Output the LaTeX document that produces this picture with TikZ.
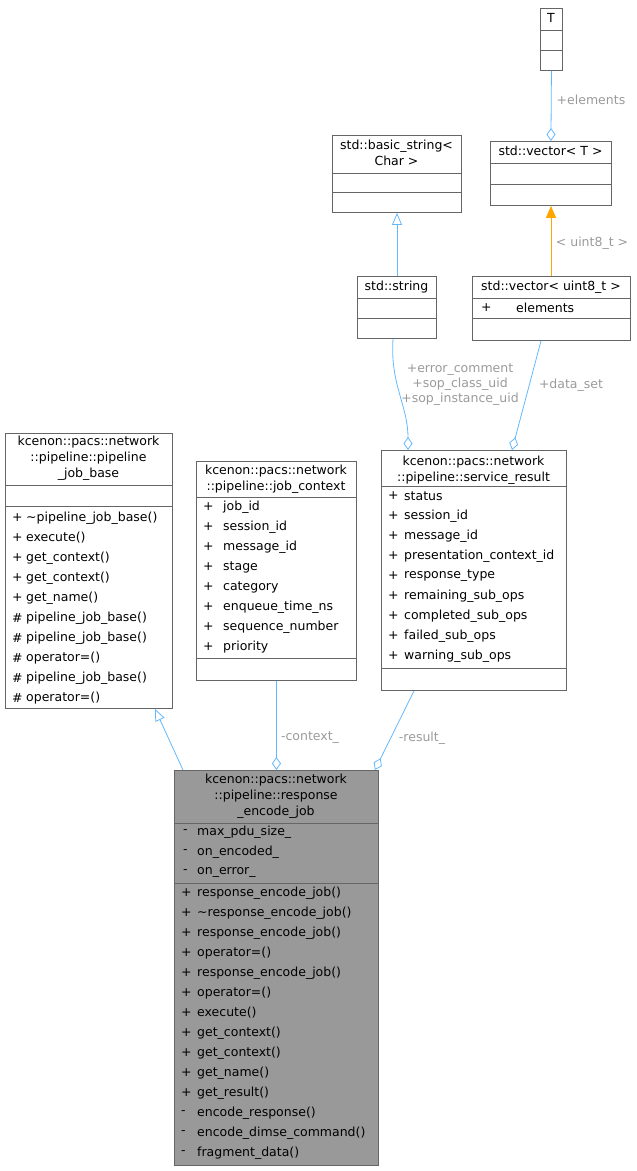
\documentclass[tikz,border=0pt]{standalone}
\usepackage{fontspec}
\setmainfont{DejaVu Sans}
\usetikzlibrary{arrows.meta}
\definecolor{edgeblue}{RGB}{99,184,255}
\definecolor{edgeorange}{RGB}{255,165,0}
\definecolor{lblgray}{RGB}{154,154,154}
\definecolor{boxline}{RGB}{102,102,102}
\tikzset{
  cls/.style={draw=boxline, fill=white, anchor=north west, inner sep=0pt, line width=0.9pt},
  ttl/.style={font=\fontsize{12.5}{16}\selectfont, align=center, inner sep=0pt},
  row/.style={font=\fontsize{12.5}{15}\selectfont, anchor=west, inner sep=0pt},
  lbl/.style={font=\fontsize{12.5}{15}\selectfont, text=lblgray, align=center, inner sep=0pt},
  uses/.style={draw=edgeblue, line width=0.8pt, -{Diamond[open,length=13,width=9]}},
  inherit/.style={draw=edgeblue, line width=0.8pt, -{Triangle[open,length=12,width=10]}},
  tmpl/.style={draw=edgeorange, line width=0.8pt, -{Triangle[fill=edgeorange,length=12,width=10]}}
}
\newcommand{\sepline}[3]{\draw[boxline, line width=0.9pt] (#1,#3) -- (#2,#3);}
\begin{document}
\begin{tikzpicture}[x=1pt, y=-1pt]
  \useasboundingbox (0,0) rectangle (637,1171);
  % T
  \node[cls, minimum width=22, minimum height=62] (tee) at (540,8) {};
  \node[ttl] (teet) at (551,18) {T};
  \sepline{540}{562}{30} \sepline{540}{562}{50}
  % std::vector< T >
  \node[cls, minimum width=121, minimum height=64] (vect) at (490,141) {};
  \node[ttl] (vectt) at (550.5,151) {std::vector< T >};
  \sepline{490}{611}{163} \sepline{490}{611}{184}
  % std::basic_string< Char >
  \node[cls, minimum width=129, minimum height=77] (bstr) at (332,135) {};
  \node[ttl] (bstrt) at (396.5,153) {std::basic\_string<\\Char >};
  \sepline{332}{461}{173} \sepline{332}{461}{192}
  % std::string
  \node[cls, minimum width=79, minimum height=62] (str) at (357,276) {};
  \node[ttl] (strt) at (396.5,287) {std::string};
  \sepline{357}{436}{298} \sepline{357}{436}{318}
  % std::vector< uint8_t >
  \node[cls, minimum width=158, minimum height=64] (vecu) at (472,276) {};
  \node[ttl] (vecut) at (551,287) {std::vector< uint8\_t >};
  \sepline{472}{630}{298} \sepline{472}{630}{318}
  \node[row] (vecup) at (481,308) {+};
  \node[row] (vecua) at (516,308) {elements};
  % pipeline_job_base
  \node[cls, minimum width=167, minimum height=275] (base) at (5,433) {};
  \node[ttl] (baset) at (88.5,458) {kcenon::pacs::network\\::pipeline::pipeline\\\_job\_base};
  \sepline{5}{172}{485} \sepline{5}{172}{506}
  \foreach \p/\t [count=\i from 0] in {+/\textasciitilde pipeline\_job\_base(), +/execute(), +/get\_context(),
      +/get\_context(), +/get\_name(), \#/pipeline\_job\_base(), \#/pipeline\_job\_base(),
      \#/operator=(), \#/pipeline\_job\_base(), \#/operator=()}
  {
    \node[row] at (12,518+20*\i) {\p};
    \node[row] at (26,518+20*\i) {\t};
  }
  % job_context
  \node[cls, minimum width=160, minimum height=219] (ctx) at (196,461) {};
  \node[ttl] (ctxt) at (276,479) {kcenon::pacs::network\\::pipeline::job\_context};
  \sepline{196}{356}{497} \sepline{196}{356}{658}
  \foreach \t [count=\i from 0] in {job\_id, session\_id, message\_id, stage, category,
      enqueue\_time\_ns, sequence\_number, priority}
  {
    \node[row] at (203,507+20*\i) {+};
    \node[row] at (223,507+20*\i) {\t};
  }
  % service_result
  \node[cls, minimum width=185, minimum height=240] (res) at (381,450) {};
  \node[ttl] (rest) at (473.5,470) {kcenon::pacs::network\\::pipeline::service\_result};
  \sepline{381}{566}{486} \sepline{381}{566}{668}
  \foreach \t [count=\i from 0] in {status, session\_id, message\_id, presentation\_context\_id,
      response\_type, remaining\_sub\_ops, completed\_sub\_ops, failed\_sub\_ops, warning\_sub\_ops}
  {
    \node[row] at (388,496+20*\i) {+};
    \node[row] at (404,496+20*\i) {\t};
  }
  % response_encode_job
  \node[cls, fill={rgb,255:red,153;green,153;blue,153}, minimum width=204, minimum height=395] (job) at (174,770) {};
  \node[ttl] (jobt) at (276,796) {kcenon::pacs::network\\::pipeline::response\\\_encode\_job};
  \sepline{174}{378}{823} \sepline{174}{378}{883}
  \foreach \t [count=\i from 0] in {max\_pdu\_size\_, on\_encoded\_, on\_error\_}
  {
    \node[row] at (183,832+20*\i) {-};
    \node[row] at (197,832+20*\i) {\t};
  }
  \foreach \p/\t [count=\i from 0] in {+/response\_encode\_job(), +/\textasciitilde response\_encode\_job(),
      +/response\_encode\_job(), +/operator=(), +/response\_encode\_job(), +/operator=(),
      +/execute(), +/get\_context(), +/get\_context(), +/get\_name(), +/get\_result(),
      -/encode\_response(), -/encode\_dimse\_command(), -/fragment\_data()}
  {
    \node[row] at (181,893+20*\i) {\p};
    \node[row] at (197,893+20*\i) {\t};
  }
  % connectors
  \draw[uses] (tee.south) -- (vect.north);
  \node[lbl] (lel) at (591,100) {+elements};
  \draw[tmpl] ([xshift=79]vecu.north west) -- ([xshift=61]vect.south west);
  \node[lbl] (ltm) at (592,243) {< uint8\_t >};
  \draw[inherit] ([xshift=40]str.north west) -- ([xshift=65]bstr.south west);
  \draw[uses] ([xshift=36]str.south west) .. controls (390,385) and (408,405) .. ([xshift=27]res.north west);
  \node[lbl] (lstr) at (460,385) {+error\_comment\\+sop\_class\_uid\\+sop\_instance\_uid};
  \draw[uses] ([xshift=69]vecu.south west) -- ([xshift=131]res.north west);
  \node[lbl] (lds) at (571,385) {+data\_set};
  \draw[inherit] ([xshift=9]job.north west) -- ([xshift=150]base.south west);
  \draw[uses] (ctx.south) -- (job.north);
  \node[lbl] (lctx) at (310,738) {-context\_};
  \draw[uses] ([xshift=33]res.south west) -- ([xshift=-4]job.north east);
  \node[lbl] (lres) at (422,738) {-result\_};
\end{tikzpicture}
\end{document}
